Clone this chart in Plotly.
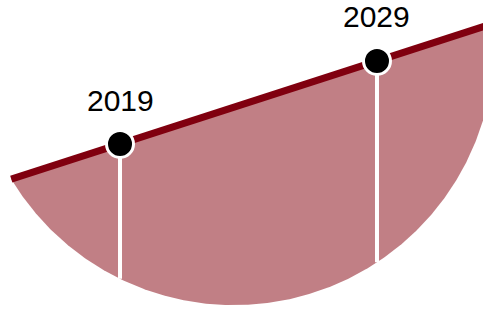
import numpy as np
import plotly.graph_objects as go

# ---- data ----
years = [2019, 2029]
values = [6.42, 9.65]
labels = ["2019", "2029"]

# ---- styling / geometry parameters ----
LINE_COLOR = "#80000f"
FILL_COLOR = "#c17f85"
X_RANGE = [2014.33, 2033.125]
Y_RANGE = [0.0, 12.023]
CIRCLE_CX, CIRCLE_CY, CIRCLE_R = 2023.44, 10.27, 10.12

# trend line through the two points
m = (values[1] - values[0]) / (years[1] - years[0])
b = values[0] - m * years[0]

# intersections of trend line with the circle
A = 1 + m * m
B = -2 * CIRCLE_CX + 2 * m * (b - CIRCLE_CY)
C = CIRCLE_CX ** 2 + (b - CIRCLE_CY) ** 2 - CIRCLE_R ** 2
disc = np.sqrt(B * B - 4 * A * C)
xl = (-B - disc) / (2 * A)
xr = (-B + disc) / (2 * A)
yl = m * xl + b
yr = m * xr + b

thL = np.arctan2(yl - CIRCLE_CY, xl - CIRCLE_CX)
thR = np.arctan2(yr - CIRCLE_CY, xr - CIRCLE_CX)
if thL > thR:
    thL -= 2 * np.pi
th = np.linspace(thL, thR, 400)
arc_x = CIRCLE_CX + CIRCLE_R * np.cos(th)
arc_y = CIRCLE_CY + CIRCLE_R * np.sin(th)

fig = go.Figure()

# filled segment
fig.add_trace(go.Scatter(x=arc_x, y=arc_y, mode="lines", fill="toself",
                         fillcolor=FILL_COLOR, line=dict(width=0),
                         hoverinfo="skip", showlegend=False))

# white drop lines
for yr_, v in zip(years, values):
    bottom = CIRCLE_CY - np.sqrt(CIRCLE_R ** 2 - (yr_ - CIRCLE_CX) ** 2)
    fig.add_trace(go.Scatter(x=[yr_, yr_], y=[v, bottom], mode="lines",
                             line=dict(color="white", width=4),
                             hoverinfo="skip", showlegend=False))

# trend line (chord)
fig.add_trace(go.Scatter(x=[xl, xr], y=[yl, yr], mode="lines",
                         line=dict(color=LINE_COLOR, width=7),
                         hoverinfo="skip", showlegend=False))

# markers
fig.add_trace(go.Scatter(x=years, y=values, mode="markers",
                         marker=dict(color="black", size=27,
                                     line=dict(color="white", width=3)),
                         cliponaxis=False, showlegend=False))

for yr_, v, lab in zip(years, values, labels):
    fig.add_annotation(x=yr_, y=v, text=lab, showarrow=False,
                       xref="x", yref="y", yanchor="middle",
                       yshift=44,
                       font=dict(family="Liberation Sans, Arial, sans-serif",
                                 size=30, color="black"))

fig.update_xaxes(range=X_RANGE, visible=False, showgrid=False, zeroline=False)
fig.update_yaxes(range=Y_RANGE, visible=False, showgrid=False, zeroline=False)
fig.update_layout(width=483, height=309, margin=dict(l=0, r=0, t=0, b=0),
                  paper_bgcolor="white", plot_bgcolor="white",
                  showlegend=False)

fig.write_html("out.html",
               config={"displayModeBar": False},
               post_script="document.body.style.margin='0';"
                           "document.body.style.overflow='hidden';")
